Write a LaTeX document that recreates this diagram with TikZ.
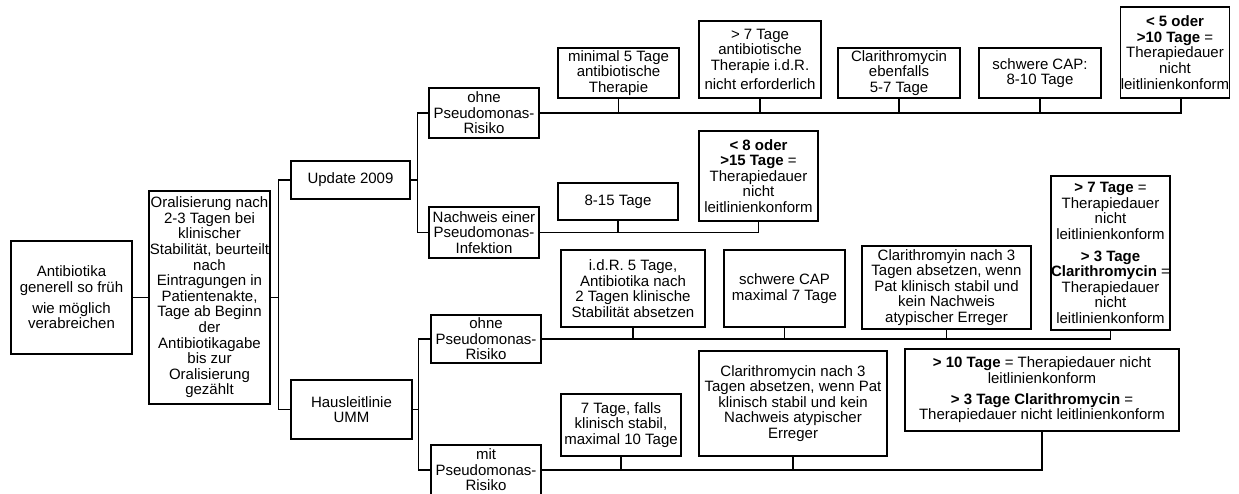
\documentclass[tikz,border=0pt]{standalone}
\usepackage{fontspec}
\setmainfont{Liberation Sans}
\begin{document}
\begin{tikzpicture}[x=1pt,y=-1pt,
  box/.style={draw,line width=1.2pt,fill=white,inner sep=0pt,align=center,
    font=\fontsize{15}{15.6}\selectfont},
  conn/.style={line width=1.1pt}]
\useasboundingbox (0,0) rectangle (1239,493);
% level 0/1
\node[box,minimum width=121pt,minimum height=113pt] (A) at (71.5,297.5)
  {Antibiotika\\generell so früh\\[5pt]wie möglich\\verabreichen};
\node[box,minimum width=121pt,minimum height=213pt] (B) at (209.5,297.5)
  {Oralisierung nach\\2-3 Tagen bei\\klinischer\\Stabilität, beurteilt\\nach\\Eintragungen in\\Patientenakte,\\Tage ab Beginn\\der\\Antibiotikagabe\\bis zur\\Oralisierung\\gezählt};
\node[box,minimum width=119pt,minimum height=38pt] (U) at (350.5,180) {Update 2009};
\node[box,minimum width=121pt,minimum height=59pt] (H) at (351.5,409.5) {Hausleitlinie\\UMM};
% level 2
\node[box,minimum width=110pt,minimum height=50pt] (O1) at (484,113) {ohne\\Pseudomonas-\\Risiko};
\node[box,minimum width=110pt,minimum height=51pt] (N) at (484,232.5) {Nachweis einer\\Pseudomonas-\\Infektion};
\node[box,minimum width=110pt,minimum height=48pt] (O2) at (486,339) {ohne\\Pseudomonas-\\Risiko};
\node[box,minimum width=110pt,minimum height=50pt] (M) at (486,470) {mit\\Pseudomonas-\\Risiko};
% children of O1
\node[box,minimum width=121pt,minimum height=50pt] (T1) at (618.5,73) {minimal 5 Tage\\antibiotische\\Therapie};
\node[box,minimum width=122pt,minimum height=77pt] (T2) at (760,59.5) {> 7 Tage\\antibiotische\\Therapie i.d.R.\\[4pt]nicht erforderlich};
\node[box,minimum width=122pt,minimum height=50pt] (T3) at (899,73) {Clarithromycin\\ebenfalls\\5-7 Tage};
\node[box,minimum width=122pt,minimum height=50pt] (T4) at (1040,73) {schwere CAP:\\8-10 Tage};
\node[box,minimum width=108pt,minimum height=91pt] (T5) at (1175,52.5)
  {\textbf{< 5 oder}\\\textbf{>10 Tage} =\\Therapiedauer\\nicht\\leitlinienkonform};
% children of N
\node[box,minimum width=120pt,minimum height=37pt] (N1) at (618,201.5) {8-15 Tage};
\node[box,minimum width=119pt,minimum height=90pt] (N2) at (758.5,176)
  {\textbf{< 8 oder}\\\textbf{>15 Tage} =\\Therapiedauer\\nicht\\leitlinienkonform};
% children of O2
\node[box,minimum width=144pt,minimum height=77pt] (P1) at (633,288.5) {i.d.R. 5 Tage,\\Antibiotika nach\\2 Tagen klinische\\Stabilität absetzen};
\node[box,minimum width=121pt,minimum height=77pt] (P2) at (784.5,288.5) {schwere CAP\\maximal 7 Tage};
\node[box,minimum width=169pt,minimum height=83pt] (P3) at (946.5,287.5) {Clarithromyin nach 3\\Tagen absetzen, wenn\\Pat klinisch stabil und\\kein Nachweis\\atypischer Erreger};
\node[box,minimum width=119pt,minimum height=154pt] (P4) at (1110.5,253)
  {\textbf{> 7 Tage} =\\Therapiedauer\\nicht\\leitlinienkonform\\[6pt]\textbf{> 3 Tage}\\\textbf{Clarithromycin} =\\Therapiedauer\\nicht\\leitlinienkonform};
% children of M
\node[box,minimum width=120pt,minimum height=62pt] (Q1) at (621,425) {7 Tage, falls\\klinisch stabil,\\maximal 10 Tage};
\node[box,minimum width=188pt,minimum height=105pt] (Q2) at (793,403.5) {Clarithromycin nach 3\\Tagen absetzen, wenn Pat\\klinisch stabil und kein\\Nachweis atypischer\\Erreger};
\node[box,minimum width=274pt,minimum height=82pt] (Q3) at (1042,390)
  {\textbf{> 10 Tage} = Therapiedauer nicht\\leitlinienkonform\\[5pt]\textbf{> 3 Tage Clarithromycin} =\\Therapiedauer nicht leitlinienkonform};
% connectors
\draw[conn] (A.east) -- (B.west);
\draw[conn] (B.east) -- ++(8,0) |- (U.west);
\draw[conn] (B.east) -- ++(8,0) |- (H.west);
\draw[conn] (U.east) -- ++(7,0) |- (O1.west);
\draw[conn] (U.east) -- ++(7,0) |- (N.west);
\draw[conn] (H.east) -- ++(6,0) |- (O2.west);
\draw[conn] (H.east) -- ++(6,0) |- (M.west);
\foreach \c in {T1,T2,T3,T4} \draw[conn] (O1.east) -| (\c.south);
\draw[conn] (O1.east) -| ([xshift=6pt]T5.south);
\foreach \c in {N1,N2} \draw[conn] (N.east) -| (\c.south);
\foreach \c in {P1,P2,P3,P4} \draw[conn] (O2.east) -| (\c.south);
\foreach \c in {Q1,Q2,Q3} \draw[conn] (M.east) -| (\c.south);
\end{tikzpicture}
\end{document}
